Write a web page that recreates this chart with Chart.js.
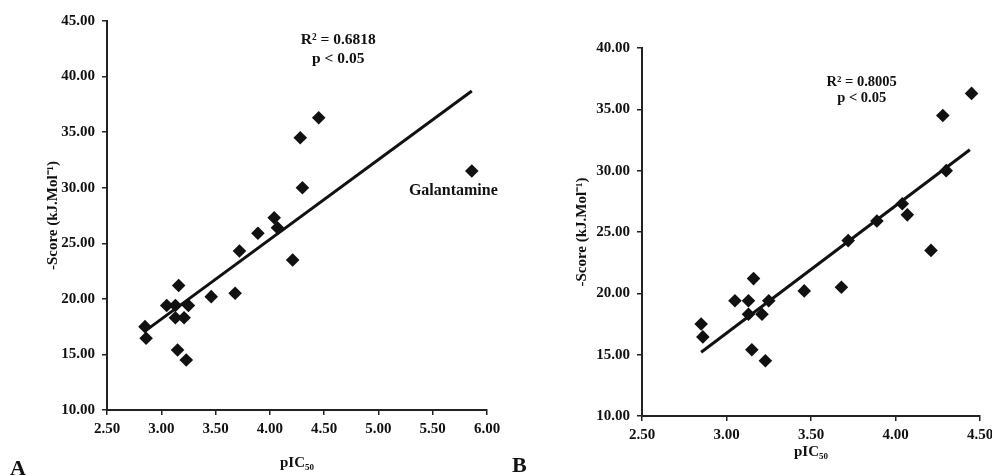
<!DOCTYPE html>
<html>
<head>
<meta charset="utf-8">
<title>pIC50 vs Score</title>
<script src="https://cdn.jsdelivr.net/npm/chart.js@4.4.1/dist/chart.umd.min.js"></script>
<style>
  html, body { margin: 0; padding: 0; background: #fff; overflow: hidden; }
  #wrap { position: relative; width: 992px; height: 475px; overflow: hidden; }
  #boxA { position: absolute; left: 0; top: 0; width: 540px; height: 475px; }
  #boxB { position: absolute; left: 496px; top: 0; width: 540px; height: 475px; }
  .panel { position: absolute; font-family: "Liberation Serif", serif; font-weight: bold; font-size: 22px; color: #111; }
</style>
</head>
<body>
<div id="wrap">
  <div id="boxA"><canvas id="chartA"></canvas></div>
  <div id="boxB"><canvas id="chartB"></canvas></div>
  <div class="panel" style="left:10px; top:455px;">A</div>
  <div class="panel" style="left:512px; top:452px;">B</div>
</div>

<script>
// compounds (panel B = same set without galantamine)
var pic50 = [2.85, 2.86, 3.05, 3.13, 3.16, 3.13, 3.21, 3.25, 3.15, 3.23,
             3.46, 3.68, 3.72, 3.89, 4.04, 4.07, 4.21, 4.30, 4.28, 4.45];
var score = [17.5, 16.45, 19.4, 19.4, 21.2, 18.3, 18.3, 19.4, 15.4, 14.5,
             20.2, 20.5, 24.3, 25.9, 27.3, 26.4, 23.5, 30.0, 34.5, 36.3];
var galantamine = [5.86, 31.5];

// trend line end points
var trendA = [[2.85, 17.1], [5.86, 38.7]];
var trendB = [[2.85, 15.2], [4.44, 31.7]];

var xTicksA = [2.5, 6.0, 0.5];
var yTicksA = [10, 45, 5];
var xTicksB = [2.5, 4.5, 0.5];
var yTicksB = [10, 40, 5];

var ink = '#111';
var fontFam = '"Liberation Serif", "Times New Roman", serif';

function toPts(xs, ys) {
  return xs.map(function (x, i) { return { x: x, y: ys[i] }; });
}
function pairPts(arr) {
  return arr.map(function (p) { return { x: p[0], y: p[1] }; });
}

// text notes drawn at data positions
var notes = {
  id: 'notes',
  afterDatasetsDraw: function (chart, args, opts) {
    var ctx = chart.ctx, xs = chart.scales.x, ys = chart.scales.y;
    ctx.save();
    ctx.fillStyle = ink;
    ctx.textAlign = 'center';
    ctx.textBaseline = 'middle';
    (opts.items || []).forEach(function (n) {
      ctx.font = 'bold ' + n.size + 'px ' + fontFam;
      ctx.fillText(n.text, xs.getPixelForValue(n.x), ys.getPixelForValue(n.y));
    });
    ctx.restore();
  }
};

function makeChart(id, pts, trend, xt, yt, fit, items) {
  var tickFont = { family: fontFam, size: 15, weight: 'bold' };
  return new Chart(document.getElementById(id), {
    type: 'scatter',
    data: {
      datasets: [{
        data: pts,
        pointStyle: 'rectRot',
        pointRadius: 6.8,
        pointHoverRadius: 6.8,
        backgroundColor: ink,
        borderColor: ink,
        borderWidth: 0
      }, {
        type: 'line',
        data: trend,
        showLine: true,
        pointRadius: 0,
        borderColor: ink,
        borderWidth: 3,
        fill: false
      }]
    },
    options: {
      responsive: true,
      maintainAspectRatio: false,
      animation: false,
      layout: { padding: { top: fit.top, right: fit.right, left: 0, bottom: 0 } },
      plugins: { legend: { display: false }, tooltip: { enabled: false }, notes: { items: items } },
      scales: {
        x: {
          type: 'linear', min: xt[0], max: xt[1],
          ticks: {
            stepSize: xt[2], padding: 5, color: ink, font: tickFont,
            callback: function (v) { return v.toFixed(2); }
          },
          grid: { drawOnChartArea: false, drawTicks: true, tickLength: 5, color: '#222', lineWidth: 1.5 },
          border: { display: true, color: '#222', width: 2 },
          title: {
            display: true, text: 'pIC₅₀', color: ink,
            font: { family: fontFam, size: 15, weight: 'bold' },
            padding: { top: 0, bottom: fit.xTitle }
          },
          afterFit: function (s) { s.height = fit.xh; }
        },
        y: {
          type: 'linear', min: yt[0], max: yt[1],
          ticks: {
            stepSize: yt[2], padding: 7, color: ink, font: tickFont,
            callback: function (v) { return v.toFixed(2); }
          },
          grid: { drawOnChartArea: false, drawTicks: true, tickLength: 5, color: '#222', lineWidth: 1.5 },
          border: { display: true, color: '#222', width: 2 },
          title: {
            display: true, text: '-Score (kJ.Mol⁻¹)', color: ink,
            font: { family: fontFam, size: 15, weight: 'bold' },
            padding: { top: fit.yTitle, bottom: 0 }
          },
          afterFit: function (s) { s.width = fit.yw; }
        }
      }
    },
    plugins: [notes]
  });
}

var ptsA = toPts(pic50, score);
ptsA.push({ x: galantamine[0], y: galantamine[1] });

makeChart('chartA', ptsA, pairPts(trendA), xTicksA, yTicksA,
  { top: 21, right: 53, yw: 107, xh: 65, xTitle: 3, yTitle: 44 },
  [
    { text: 'R² = 0.6818', x: 4.63, y: 43.3, size: 15.5 },
    { text: 'p < 0.05', x: 4.63, y: 41.6, size: 15.5 },
    { text: 'Galantamine', x: 5.69, y: 29.7, size: 16 }
  ]);

makeChart('chartB', toPts(pic50, score), pairPts(trendB), xTicksB, yTicksB,
  { top: 48, right: 56, yw: 146, xh: 59, xTitle: 14, yTitle: 77 },
  [
    { text: 'R² = 0.8005', x: 3.80, y: 37.2, size: 14.5 },
    { text: 'p < 0.05', x: 3.80, y: 35.9, size: 14.5 }
  ]);
</script>
</body>
</html>
